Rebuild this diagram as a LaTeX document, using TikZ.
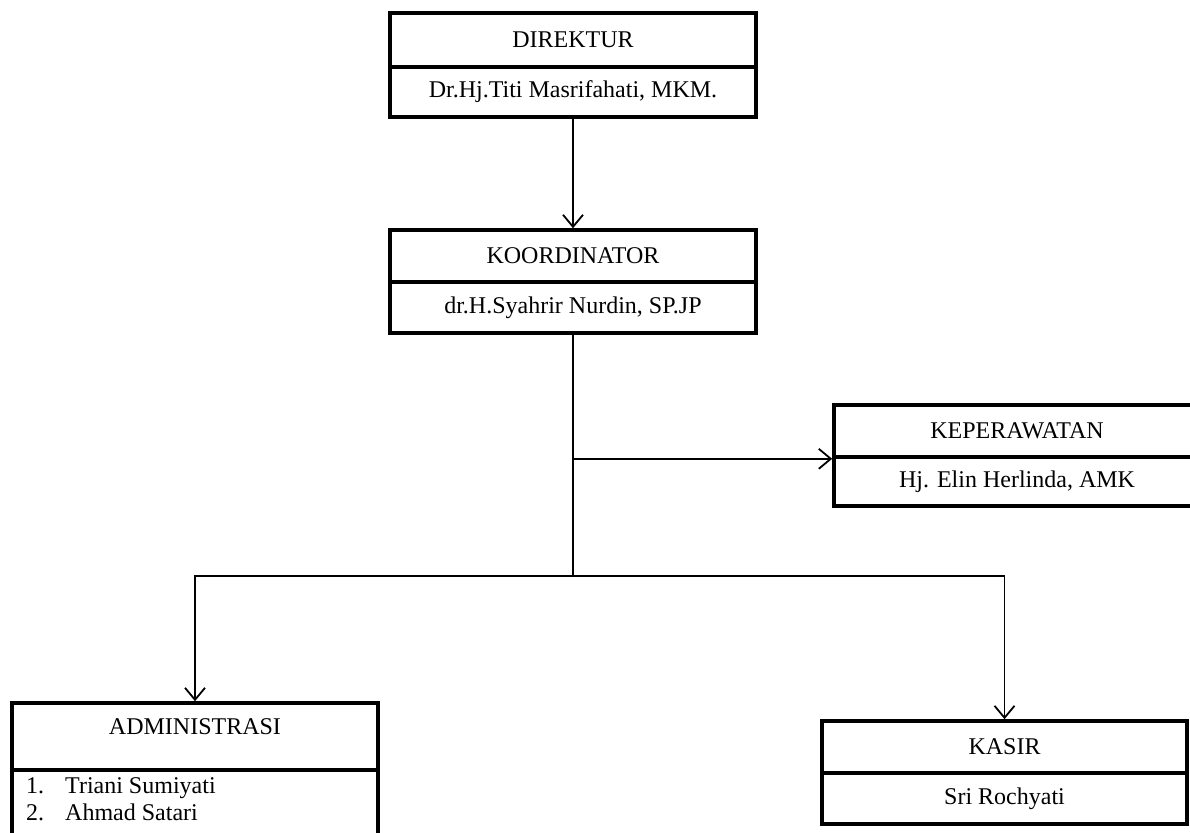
\documentclass[tikz,border=0pt]{standalone}
\usepackage{fontspec}
\setmainfont{Liberation Serif}
\usetikzlibrary{arrows.meta}
\begin{document}
\begin{tikzpicture}[x=1pt,y=-1pt,
  box/.style={draw=black,line width=3.6pt,rectangle,inner sep=0pt,
    minimum width=366pt,font=\fontsize{24}{27}\selectfont},
  item/.style={inner sep=0pt,anchor=base west,font=\fontsize{24}{27}\selectfont},
  link/.style={draw=black,line width=1.8pt},
  arr/.style={link,-{Straight Barb[length=12pt,width=20pt,line width=1.8pt]}}]
\useasboundingbox (0,0) rectangle (1190,832);

% Direktur
\node[box,minimum height=54pt] (dirh) at (573,40) {DIREKTUR};
\node[box,minimum height=50pt] (dirb) at (573,92) {Dr.Hj.Titi Masrifahati, MKM.};

% Koordinator
\node[box,minimum height=52pt] (korh) at (573,256) {KOORDINATOR};
\node[box,minimum height=51pt] (korb) at (573,307.5) {dr.H.Syahrir Nurdin, SP.JP};

% Keperawatan
\node[box,minimum height=52pt] (keph) at (1017,431) {KEPERAWATAN};
\node[box,minimum height=49pt] (kepb) at (1017,481.5) {Hj. Elin Herlinda, AMK};

% Administrasi
\node[box,minimum height=67pt,text depth=20pt] (admh) at (195,736.5) {ADMINISTRASI};
\node[box,minimum height=80pt] (admb) at (195,810) {};
\node[item] (adm1) at (26,793) {1.\hspace{21pt}Triani Sumiyati};
\node[item] (adm2) at (26,820) {2.\hspace{21pt}Ahmad Satari};

% Kasir
\node[box,minimum height=52pt,minimum width=365pt] (kash) at (1004.5,747) {KASIR};
\node[box,minimum height=51pt,minimum width=365pt] (kasb) at (1004.5,798.5) {Sri Rochyati};

% Connectors
\coordinate (split) at (korb.south |- 0,576);
\coordinate (branch) at (korb.south |- keph.south west);
\draw[arr] (dirb.south) -- (korh.north);
\draw[link] (korb.south) -- (split);
\draw[arr] (branch) -- (keph.south west);
\draw[arr] (split) -| (admh.north);
\draw[arr] (split) -| (kash.north);
\end{tikzpicture}
\end{document}
